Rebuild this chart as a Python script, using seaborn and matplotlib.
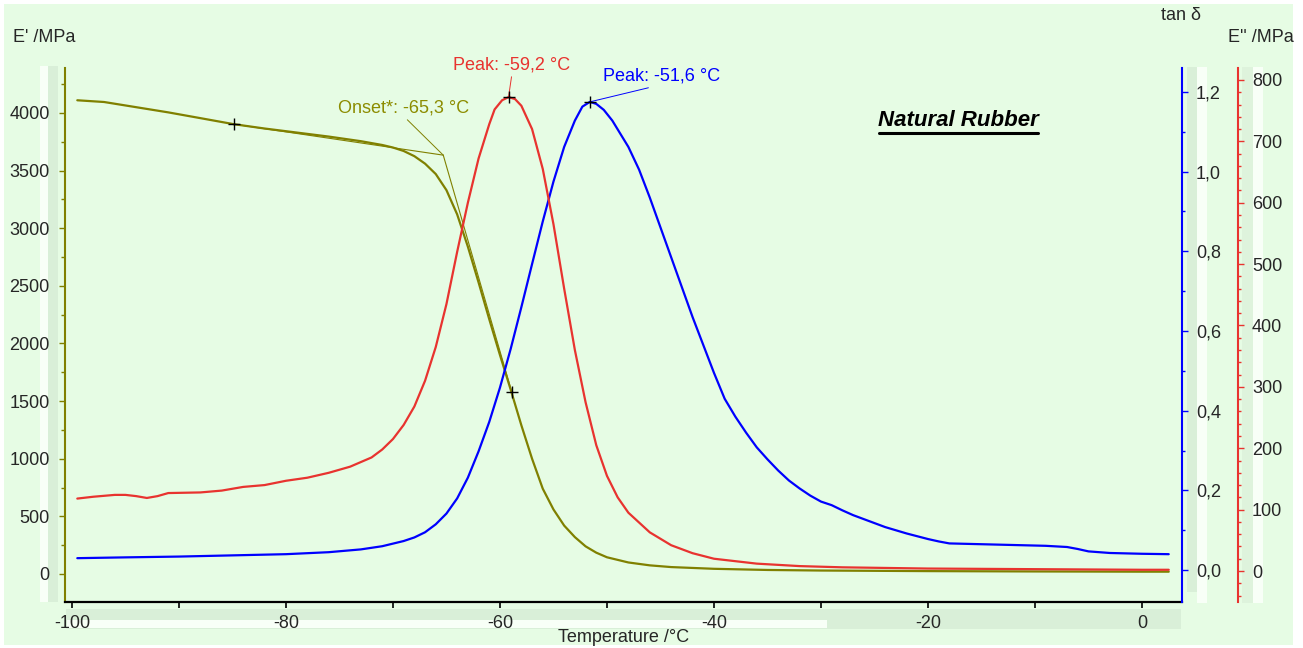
import numpy as np
import matplotlib
matplotlib.use("Agg")
from matplotlib import pyplot as plt
from matplotlib.patches import Rectangle
from matplotlib.ticker import MultipleLocator, FuncFormatter
import seaborn as sns

# storage modulus E' /MPa
temp_storage = [-99.5, -97, -94, -91, -88, -84.9, -82, -79, -76, -73, -71, -70, -69, -68,
                -67, -66, -65, -64, -63, -62, -61, -60, -59, -58, -57, -56, -55, -54,
                -53, -52, -51, -50, -48, -46, -44, -40, -35, -30, -20, -10, 0, 2.5]
e_storage = [4110, 4095, 4050, 4005, 3955, 3903, 3865, 3830, 3795, 3755, 3722, 3700, 3670, 3625,
             3560, 3470, 3330, 3120, 2840, 2530, 2210, 1900, 1600, 1290, 1000, 740, 560, 420,
             320, 240, 185, 145, 100, 75, 60, 45, 35, 30, 25, 22, 20, 20]

# loss modulus E'' /MPa
temp_loss = [-99.5, -98, -96, -95, -94, -93, -92, -91, -88, -86, -84, -82, -80, -78, -76,
             -74, -72, -71, -70, -69, -68, -67, -66, -65, -64, -63, -62, -61, -60.5, -59.8,
             -59.2, -58.6, -58, -57, -56, -55, -54, -53, -52, -51, -50, -49, -48, -46, -44,
             -42, -40, -36, -32, -28, -20, -10, 0, 2.5]
e_loss = [118, 121, 124, 124, 122, 119, 122, 127, 128, 131, 137, 140, 147, 152, 160,
          170, 185, 198, 215, 238, 268, 310, 365, 435, 520, 600, 672, 728, 752, 767,
          772, 769, 758, 720, 655, 565, 460, 360, 275, 205, 155, 120, 95, 63, 42,
          29, 20, 12, 8, 6, 4, 3, 2, 2]

# loss factor tan delta
temp_tan = [-99.5, -95, -90, -85, -80, -76, -73, -71, -69, -68, -67, -66, -65, -64, -63,
            -62, -61, -60, -59, -58, -57, -56, -55, -54, -53, -52.3, -51.6, -51, -50.3, -49.5,
            -49, -48, -47, -46, -45, -44, -43, -42, -41, -40, -39, -38, -37, -36, -35, -34,
            -33, -32, -31, -30, -29, -28, -27, -26, -25, -24, -23, -22, -21, -20, -19,
            -18, -15, -12, -9, -7, -6, -5, -3, 0, 2.5]
tan_delta = [0.030, 0.032, 0.034, 0.037, 0.040, 0.045, 0.052, 0.060, 0.073, 0.082, 0.095, 0.115, 0.142, 0.180, 0.232,
             0.298, 0.372, 0.458, 0.555, 0.660, 0.768, 0.875, 0.975, 1.062, 1.128, 1.163, 1.175, 1.170, 1.155, 1.128,
             1.106, 1.062, 1.005, 0.935, 0.860, 0.785, 0.710, 0.635, 0.565, 0.495, 0.430, 0.385, 0.345, 0.308, 0.278, 0.250,
             0.225, 0.205, 0.187, 0.172, 0.163, 0.150, 0.138, 0.128, 0.118, 0.108, 0.100, 0.092, 0.085, 0.078, 0.072,
             0.067, 0.065, 0.063, 0.061, 0.058, 0.053, 0.047, 0.043, 0.041, 0.040]

# onset evaluation: tangent anchors on E' and the onset point
onset_anchor_t = [-84.9, -58.9]
onset_anchor_e = [3903, 1580]
onset_t, onset_e = -65.3, 3634

OLIVE = "#808000"
OLIVE_TXT = "#8c8c00"
RED = "#e8332f"
BLUE = "#0000ff"
BG = "#e6fce4"
BAND = "#d9efd8"
PALE = "#f8fff7"

W, H = 1303, 648


def fx(x):
    return x / W


def fy(y):
    return 1 - y / H


def comma(v, pos):
    return f"{v:.1f}".replace(".", ",")


def main():
    sns.set_style("ticks")
    plt.rcParams["font.family"] = ["Liberation Sans", "DejaVu Sans"]
    plt.rcParams["font.size"] = 13
    plt.rcParams["axes.unicode_minus"] = False

    fig = plt.figure(figsize=(W / 100, H / 100), dpi=100, facecolor="white")

    # green panel and the grey scroll bands
    def band(x0, y0, x1, y1, color):
        fig.add_artist(Rectangle((fx(x0), fy(y1)), fx(x1 - x0), (y1 - y0) / H,
                                 transform=fig.transFigure, facecolor=color,
                                 edgecolor="none", zorder=-5))
    band(4, 4, 1293, 645, BG)
    band(40, 66, 48, 602, PALE)
    band(48, 66, 58, 602, BAND)
    band(66, 609, 1181, 629, BAND)
    band(67, 620, 827, 628, PALE)
    band(1187, 67, 1197, 592, BAND)
    band(1197, 67, 1207, 603, PALE)
    band(1242, 67, 1253, 603, "#def3dc")
    band(1253, 67, 1263, 603, PALE)

    ax = fig.add_axes([fx(65), fy(602), fx(1182 - 65), (602 - 68) / H])
    ax.set_facecolor("none")
    ax_tan = ax.twinx()
    ax_loss = ax.twinx()

    sns.lineplot(x=temp_storage, y=e_storage, ax=ax, color=OLIVE, linewidth=1.6)
    sns.lineplot(x=temp_loss, y=e_loss, ax=ax_loss, color=RED, linewidth=1.6)
    sns.lineplot(x=temp_tan, y=tan_delta, ax=ax_tan, color=BLUE, linewidth=1.6)

    ax.set_xlim(-100.65, 3.74)
    ax.set_ylim(-243, 4390)
    ax_tan.set_ylim(-0.08, 1.26)
    ax_loss.set_ylim(-50.5, 819.5)

    for a in (ax, ax_tan, ax_loss):
        a.set_xlabel("")
        a.set_ylabel("")
        a.spines["top"].set_visible(False)

    ax.spines["right"].set_visible(False)
    ax.spines["left"].set_color(OLIVE)
    ax.spines["left"].set_linewidth(1.5)
    ax.spines["bottom"].set_color("black")
    ax.spines["bottom"].set_linewidth(1.6)
    ax.xaxis.set_major_locator(MultipleLocator(20))
    ax.xaxis.set_minor_locator(MultipleLocator(10))
    ax.yaxis.set_major_locator(MultipleLocator(500))
    ax.yaxis.set_minor_locator(MultipleLocator(250))
    ax.tick_params(axis="x", which="both", direction="out", length=4, width=1.2,
                   color="black", labelsize=13, pad=5)
    ax.tick_params(axis="y", which="major", direction="out", length=4, width=1,
                   color=OLIVE, labelsize=13, pad=7)
    ax.tick_params(axis="y", which="minor", direction="out", length=3, width=1, color=OLIVE)

    for a, col in ((ax_tan, BLUE), (ax_loss, RED)):
        a.spines["left"].set_visible(False)
        a.spines["bottom"].set_visible(False)
        a.spines["right"].set_color(col)
        a.spines["right"].set_linewidth(1.5)
        a.tick_params(axis="y", which="major", direction="out", length=4, width=1,
                      color=col, labelsize=13, pad=6)
        a.tick_params(axis="y", which="minor", direction="out", length=2.5, width=1, color=col)
    ax_loss.spines["right"].set_position(("axes", (1238 - 65) / (1182 - 65)))
    ax_tan.yaxis.set_major_locator(MultipleLocator(0.2))
    ax_tan.yaxis.set_minor_locator(MultipleLocator(0.1))
    ax_tan.yaxis.set_major_formatter(FuncFormatter(comma))
    ax_loss.yaxis.set_major_locator(MultipleLocator(100))
    ax_loss.yaxis.set_minor_locator(MultipleLocator(20))

    # onset tangents on E'
    for t0, e0 in zip(onset_anchor_t, onset_anchor_e):
        ax.plot([t0, onset_t], [e0, onset_e], color=OLIVE, lw=0.8, zorder=3)
    ax.plot(onset_anchor_t, onset_anchor_e, ls="none", marker="+", ms=8, mew=1, color="black", zorder=5)
    ax.annotate("Onset*: -65,3 °C", xy=(onset_t, onset_e), xytext=(fx(404), fy(108)),
                textcoords="figure fraction", ha="center", va="center", color=OLIVE_TXT, fontsize=13,
                arrowprops=dict(arrowstyle="-", color=OLIVE, lw=0.7, shrinkA=0, shrinkB=0,
                                relpos=(0.5, 0.0)))

    # peaks
    i_loss = int(np.argmax(e_loss))
    i_tan = int(np.argmax(tan_delta))
    ax_loss.plot(temp_loss[i_loss], e_loss[i_loss], marker="+", ms=8, mew=1, color="black", zorder=5)
    ax_tan.plot(temp_tan[i_tan], tan_delta[i_tan], marker="+", ms=8, mew=1, color="black", zorder=5)
    ax_loss.annotate("Peak: -59,2 °C", xy=(temp_loss[i_loss], e_loss[i_loss]), xytext=(fx(512), fy(65)),
                     textcoords="figure fraction", ha="center", va="center", color=RED, fontsize=13,
                     arrowprops=dict(arrowstyle="-", color=RED, lw=0.7, shrinkA=0, shrinkB=0,
                                     relpos=(0.5, 0.0)))
    ax_tan.annotate("Peak: -51,6 °C", xy=(temp_tan[i_tan], tan_delta[i_tan]), xytext=(fx(662), fy(76)),
                    textcoords="figure fraction", ha="center", va="center", color=BLUE, fontsize=13,
                    arrowprops=dict(arrowstyle="-", color=BLUE, lw=0.7, shrinkA=0, shrinkB=0,
                                    relpos=(0.5, 0.0)))

    # title and axis names
    fig.text(fx(958), fy(120), "Natural Rubber", ha="center", va="center", fontsize=16,
             fontweight="bold", fontstyle="italic", color="black")
    fig.add_artist(plt.Line2D([fx(879), fx(1038)], [fy(133), fy(133)], transform=fig.transFigure,
                              color="black", lw=2.2))
    fig.text(fx(13), fy(38), "E' /MPa", ha="left", va="center", fontsize=13)
    fig.text(fx(1181), fy(15), "tan δ", ha="center", va="center", fontsize=13)
    fig.text(fx(1228), fy(38), "E'' /MPa", ha="left", va="center", fontsize=13)
    fig.text(fx(624), fy(637), "Temperature /°C", ha="center", va="center", fontsize=13)

    fig.savefig("out.png", dpi=100, facecolor=fig.get_facecolor())


if __name__ == "__main__":
    main()
